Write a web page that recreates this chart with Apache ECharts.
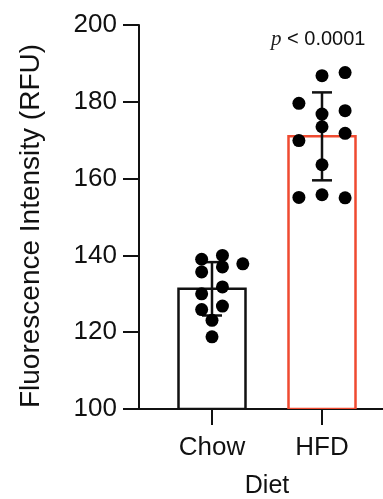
<!DOCTYPE html>
<html>
<head>
<meta charset="utf-8">
<script src="https://cdn.jsdelivr.net/npm/echarts@6/dist/echarts.min.js"></script>
<style>
html,body{margin:0;padding:0;background:#fff;}
#chart{width:383px;height:499px;}
</style>
</head>
<body>
<div id="chart"></div>
<script>
// ---- data ----
var categories = ['Chow', 'HFD'];
var catPos = [1, 2];
var barColors = ['#111111', '#ef4a30'];
var means = [131.3, 171.0];
var sds = [6.95, 11.45];
var chowJitter = [-0.094, 0.095, 0.28, -0.094, 0.095, 0.095, -0.094, -0.094, 0.095, 0, 0];
var chowValues = [139.0, 140.0, 137.8, 135.7, 137.0, 131.8, 130.0, 125.9, 126.8, 123.1, 118.8];
var hfdJitter = [0, 0.21, -0.21, 0.21, 0, 0, 0.21, -0.21, 0, -0.21, 0, 0.21];
var hfdValues = [186.8, 187.6, 179.6, 177.7, 176.8, 173.5, 171.8, 169.9, 163.6, 155.1, 155.8, 155.0];
var yTicks = [100, 120, 140, 160, 180, 200];
var pText = '< 0.0001';

var FONT = 'Liberation Sans, Arial, Helvetica, sans-serif';
var chart = echarts.init(document.getElementById('chart'), null, {renderer: 'canvas'});

var barData = means.map(function (m, i) { return [catPos[i], m, i]; });
var errData = means.map(function (m, i) { return [catPos[i], m - sds[i], m + sds[i]]; });
var dots = [];
chowValues.forEach(function (v, i) { dots.push([catPos[0] + chowJitter[i], v]); });
hfdValues.forEach(function (v, i) { dots.push([catPos[1] + hfdJitter[i], v]); });

var BAR_W = 67;

var option = {
  animation: false,
  backgroundColor: '#fff',
  grid: {left: 139, width: 256, top: 25, height: 384, containLabel: false, outerBoundsMode: 'none'},
  xAxis: {
    type: 'value', min: 0.3364, max: 2.6636,
    splitLine: {show: false},
    axisLine: {show: true, onZero: false, lineStyle: {color: '#111', width: 2}},
    axisTick: {show: true, length: 16, inside: false, customValues: catPos, lineStyle: {color: '#111', width: 2}},
    axisLabel: {
      show: true, customValues: catPos, margin: 26, color: '#111', fontSize: 26, fontFamily: FONT,
      formatter: function (v) { var k = catPos.indexOf(Math.round(v)); return k >= 0 ? categories[k] : ''; }
    },
    name: 'Diet', nameLocation: 'middle', nameGap: 65,
    nameTextStyle: {color: '#111', fontSize: 25, fontFamily: FONT}
  },
  yAxis: {
    type: 'value', min: 100, max: 200, interval: 20,
    splitLine: {show: false},
    axisLine: {show: true, lineStyle: {color: '#111', width: 2}},
    axisTick: {show: true, length: 16, lineStyle: {color: '#111', width: 2}},
    axisLabel: {margin: 22, color: '#111', fontSize: 26, fontFamily: FONT,
      padding: [0, 0, 4, 0], customValues: yTicks},
    name: 'Fluorescence Intensity (RFU)', nameLocation: 'middle', nameGap: 94, nameRotate: 90,
    nameTextStyle: {color: '#111', fontSize: 28, fontFamily: FONT, padding: [0, 18, 0, 0]}
  },
  graphic: [{
    type: 'text', left: 271, top: 29, z: 10,
    style: {
      text: '{i|p} ' + pText,
      rich: {i: {fontFamily: 'Liberation Serif, Times New Roman, serif', fontStyle: 'italic', fontSize: 21, fill: '#222'}},
      fontFamily: FONT, fontSize: 20, fill: '#111'
    }
  }],
  series: [
    {
      type: 'custom', z: 2, data: barData, clip: true,
      renderItem: function (params, api) {
        var top = api.coord([api.value(0), api.value(1)]);
        var base = params.coordSys.y + params.coordSys.height;
        return {
          type: 'rect',
          shape: {x: top[0] - BAR_W / 2, y: top[1], width: BAR_W, height: base - top[1]},
          style: {fill: '#fff', stroke: barColors[api.value(2)], lineWidth: 2.5}
        };
      }
    },
    {
      type: 'custom', z: 3, data: errData,
      renderItem: function (params, api) {
        var x = api.value(0);
        var lo = api.coord([x, api.value(1)]);
        var hi = api.coord([x, api.value(2)]);
        var cap = 10;
        var st = {stroke: '#111', lineWidth: 2.5};
        return {type: 'group', children: [
          {type: 'line', shape: {x1: lo[0], y1: lo[1], x2: hi[0], y2: hi[1]}, style: st},
          {type: 'line', shape: {x1: lo[0] - cap, y1: lo[1], x2: lo[0] + cap, y2: lo[1]}, style: st},
          {type: 'line', shape: {x1: hi[0] - cap, y1: hi[1], x2: hi[0] + cap, y2: hi[1]}, style: st}
        ]};
      }
    },
    {type: 'scatter', z: 4, data: dots, symbol: 'circle', symbolSize: 13, itemStyle: {color: '#000', opacity: 1}}
  ]
};
chart.setOption(option);
</script>
</body>
</html>
